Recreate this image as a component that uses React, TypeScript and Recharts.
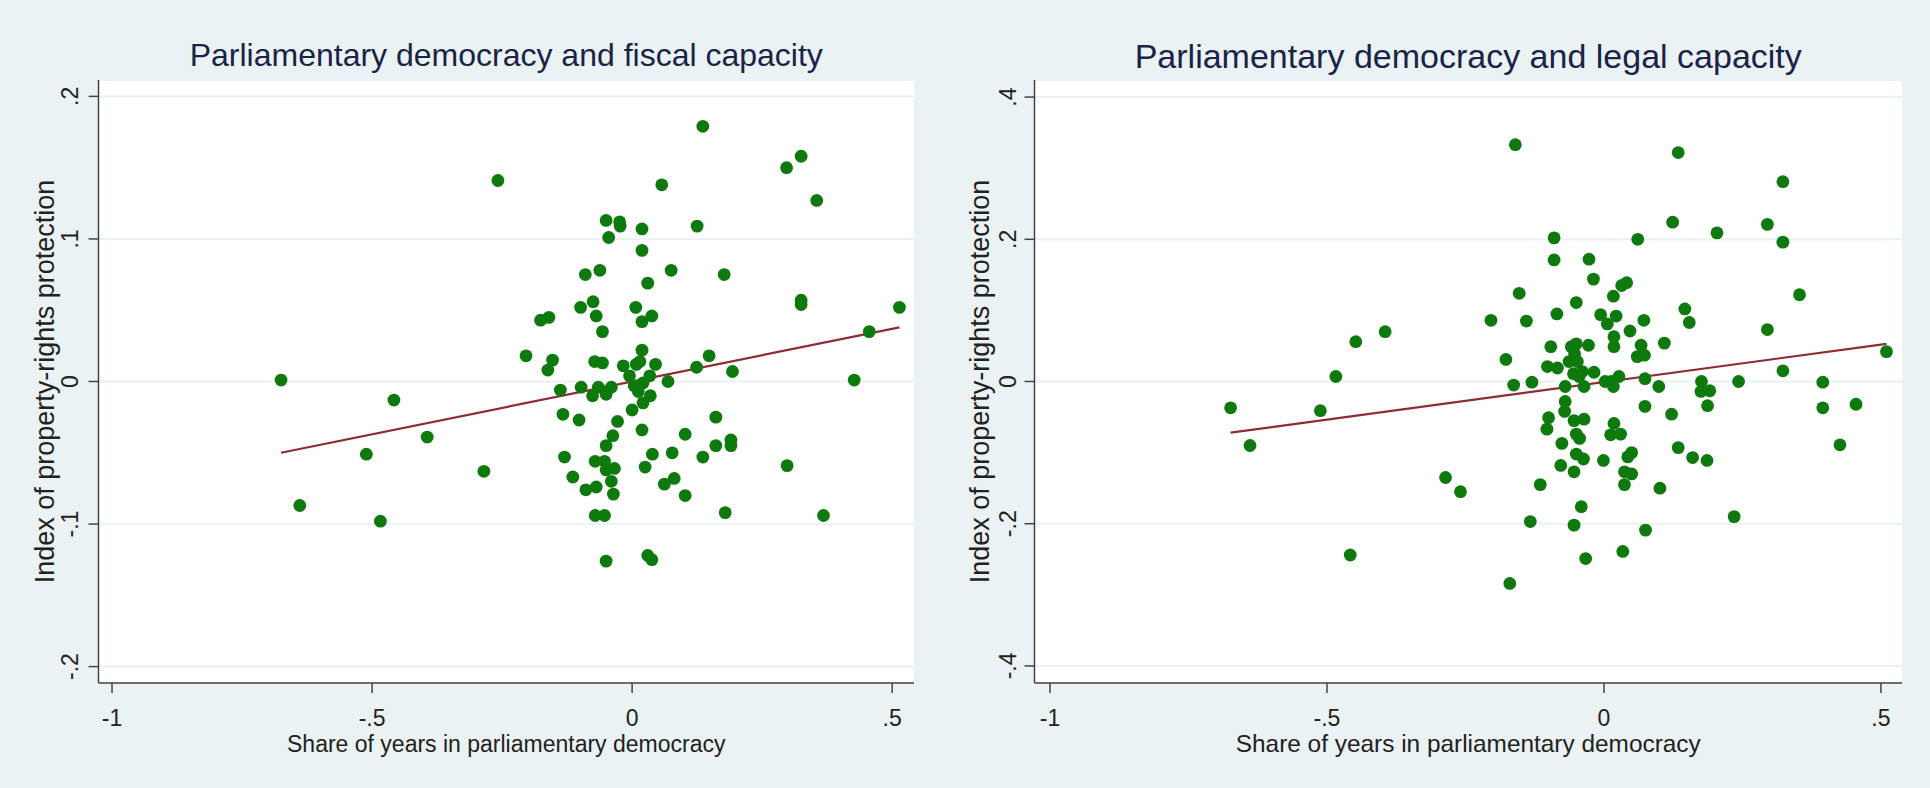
import React from 'react'
import { ScatterChart, Scatter, XAxis, YAxis, CartesianGrid, ReferenceLine } from 'recharts'

// x = share of years in parliamentary democracy, y = index of property-rights protection
const fiscalPoints: [number, number][] = [
  [-0.675, 0.001], [-0.639, -0.087], [-0.458, -0.013], [-0.511, -0.051], [-0.484, -0.098],
  [-0.394, -0.039], [-0.285, -0.063], [-0.258, 0.141], [-0.204, 0.018], [-0.176, 0.043],
  [-0.16, 0.045], [-0.153, 0.015], [-0.162, 0.008], [-0.138, -0.006], [-0.133, -0.023],
  [-0.13, -0.053], [-0.114, -0.067], [-0.102, -0.027], [-0.099, 0.052], [-0.098, -0.004],
  [-0.09, 0.075], [-0.089, -0.076], [-0.075, 0.056], [-0.069, 0.046], [-0.062, 0.078],
  [-0.057, 0.035], [-0.072, 0.014], [-0.057, 0.013], [-0.076, -0.01], [-0.065, -0.004],
  [-0.071, -0.056], [-0.069, -0.074], [-0.071, -0.094], [-0.053, -0.094], [-0.05, 0.113],
  [-0.045, 0.101], [-0.024, 0.112], [-0.023, 0.109], [-0.05, -0.009], [-0.04, -0.004],
  [-0.05, -0.045], [-0.037, -0.038], [-0.028, -0.028], [-0.053, -0.056], [-0.05, -0.062],
  [-0.034, -0.061], [-0.04, -0.07], [-0.036, -0.079], [-0.05, -0.126], [-0.017, 0.011],
  [-0.005, 0.004], [0.004, -0.003], [0.0, -0.02], [0.007, 0.052], [0.019, 0.107],
  [0.019, 0.092], [0.019, 0.042], [0.038, 0.046], [0.03, 0.069], [0.019, 0.022],
  [0.015, 0.014], [0.008, 0.012], [0.021, -0.001], [0.034, 0.004], [0.045, 0.012],
  [0.012, -0.007], [0.021, -0.015], [0.035, -0.01], [0.019, -0.034], [0.025, -0.06],
  [0.039, -0.051], [0.03, -0.122], [0.038, -0.125], [0.057, 0.138], [0.069, 0.0],
  [0.075, 0.078], [0.077, -0.05], [0.062, -0.072], [0.081, -0.068], [0.102, -0.037],
  [0.102, -0.08], [0.125, 0.109], [0.124, 0.01], [0.136, 0.179], [0.136, -0.053],
  [0.148, 0.018], [0.161, -0.025], [0.161, -0.045], [0.177, 0.075], [0.179, -0.092],
  [0.193, 0.007], [0.19, -0.041], [0.19, -0.045], [0.297, 0.15], [0.325, 0.158],
  [0.355, 0.127], [0.325, 0.057], [0.325, 0.054], [0.298, -0.059], [0.368, -0.094],
  [0.427, 0.001], [0.456, 0.035], [0.514, 0.052],
]

const legalPoints: [number, number][] = [
  [-0.674, -0.037], [-0.639, -0.09], [-0.512, -0.041], [-0.484, 0.007], [-0.448, 0.056],
  [-0.395, 0.07], [-0.458, -0.244], [-0.286, -0.135], [-0.259, -0.155], [-0.204, 0.086],
  [-0.177, 0.031], [-0.163, -0.005], [-0.16, 0.333], [-0.153, 0.124], [-0.14, 0.085],
  [-0.13, -0.001], [-0.133, -0.197], [-0.115, -0.145], [-0.17, -0.284], [-0.102, 0.021],
  [-0.096, 0.049], [-0.09, 0.202], [-0.09, 0.171], [-0.085, 0.095], [-0.084, 0.019],
  [-0.1, -0.051], [-0.103, -0.067], [-0.076, -0.087], [-0.078, -0.118], [-0.07, -0.007],
  [-0.07, -0.028], [-0.071, -0.042], [-0.063, 0.028], [-0.059, 0.049], [-0.05, 0.053],
  [-0.053, 0.039], [-0.048, 0.028], [-0.055, 0.011], [-0.045, 0.007], [-0.039, 0.014],
  [-0.05, 0.111], [-0.054, -0.055], [-0.05, -0.074], [-0.044, -0.08], [-0.054, -0.127],
  [-0.05, -0.102], [-0.037, -0.109], [-0.036, -0.053], [-0.036, -0.007], [-0.041, -0.176],
  [-0.054, -0.202], [-0.033, -0.249], [-0.028, 0.051], [-0.027, 0.172], [-0.019, 0.144],
  [-0.018, 0.013], [-0.006, 0.094], [0.006, 0.081], [-0.001, -0.111], [0.002, 0.0],
  [0.013, 0.0], [0.017, 0.12], [0.022, 0.092], [0.018, 0.063], [0.018, 0.049],
  [0.017, -0.007], [0.027, 0.007], [0.018, -0.059], [0.012, -0.075], [0.03, -0.074],
  [0.032, 0.135], [0.041, 0.139], [0.047, 0.071], [0.037, -0.127], [0.037, -0.145],
  [0.043, -0.106], [0.05, -0.1], [0.05, -0.13], [0.034, -0.239], [0.061, 0.2],
  [0.067, 0.051], [0.06, 0.035], [0.073, 0.037], [0.072, 0.086], [0.074, 0.004],
  [0.074, -0.035], [0.075, -0.209], [0.099, -0.007], [0.109, 0.054], [0.101, -0.15],
  [0.122, -0.046], [0.124, 0.224], [0.134, 0.322], [0.134, -0.093], [0.146, 0.102],
  [0.154, 0.083], [0.16, -0.107], [0.176, 0.0], [0.175, -0.014], [0.191, -0.013],
  [0.187, -0.034], [0.186, -0.111], [0.204, 0.209], [0.235, -0.19], [0.243, 0.0],
  [0.295, 0.221], [0.295, 0.073], [0.323, 0.281], [0.323, 0.196], [0.323, 0.015],
  [0.353, 0.122], [0.395, -0.001], [0.395, -0.037], [0.426, -0.089], [0.455, -0.032],
  [0.51, 0.042],
]

// fitted line endpoints
const fiscalFit: [number, number][] = [[-0.675, -0.05], [0.514, 0.038]]
const legalFit: [number, number][] = [[-0.674, -0.072], [0.51, 0.053]]

const xTicks = [-1, -0.5, 0, 0.5]
const fiscalYTicks = [-0.2, -0.1, 0, 0.1, 0.2]
const legalYTicks = [-0.4, -0.2, 0, 0.2, 0.4]

const BG = '#eaf2f3'
const GREEN = '#0e7a0e'
const FONT = '"Liberation Sans", Arial, Helvetica, sans-serif'

// stata-style labels: .5, -.5, 0, -1
const fmt = (v: number) => (v === 0 ? '0' : String(v).replace(/^(-?)0\./, '$1.'))

const dot = (props: any) => <circle cx={props.cx} cy={props.cy} r={6.4} fill={GREEN} />

type PanelProps = {
  left: number
  title: string
  points: [number, number][]
  fit: [number, number][]
  yTicks: number[]
  xDomain: [number, number]
  yDomain: [number, number]
  axisW: number
  rightM: number
  titleSize: number
  labelSize: number
  yLabelX: number
  yTickOff: number
}

function Panel(p: PanelProps) {
  const data = p.points.map(([x, y]) => ({ x, y }))
  const plotW = 965 - p.axisW - p.rightM
  const center = p.axisW + plotW / 2

  const YTick = (t: any) => {
    const cx = t.x - p.yTickOff
    return (
      <text x={cx} y={t.y} transform={`rotate(-90 ${cx} ${t.y})`} textAnchor="middle"
        dominantBaseline="central" fontSize={23} fill="#222" fontFamily={FONT}>
        {fmt(t.payload.value)}
      </text>
    )
  }
  const XTick = (t: any) => (
    <text x={t.x} y={t.y + 33} textAnchor="middle" fontSize={23} fill="#222" fontFamily={FONT}>
      {fmt(t.payload.value)}
    </text>
  )

  return (
    <div style={{ position: 'absolute', left: p.left, top: 0, width: 965, height: 788 }}>
      <div style={{
        position: 'absolute', left: center - 450, width: 900, top: 39, textAlign: 'center',
        fontFamily: FONT, fontSize: p.titleSize, lineHeight: `${p.titleSize}px`, color: '#1a2448',
      }}>
        {p.title}
      </div>
      <ScatterChart width={965} height={788} margin={{ top: 80, right: p.rightM, bottom: 0, left: 0 }}>
        <CartesianGrid vertical={false} stroke={BG} strokeWidth={2} fill="#ffffff" />
        <XAxis type="number" dataKey="x" domain={p.xDomain} ticks={xTicks} interval={0}
          allowDataOverflow height={105} tickSize={10} tickMargin={0}
          axisLine={{ stroke: '#444', strokeWidth: 1.5 }} tickLine={{ stroke: '#444', strokeWidth: 1.5 }}
          tick={XTick}
          label={{
            value: 'Share of years in parliamentary democracy',
            content: (l: any) => (
              <text x={l.viewBox.x + l.viewBox.width / 2} y={752} textAnchor="middle"
                fontSize={p.labelSize} fill="#222" fontFamily={FONT}>
                Share of years in parliamentary democracy
              </text>
            ),
          }}
        />
        <YAxis type="number" dataKey="y" domain={p.yDomain} ticks={p.yTicks} interval={0}
          allowDataOverflow width={p.axisW} tickSize={10} tickMargin={0}
          axisLine={{ stroke: '#444', strokeWidth: 1.5 }} tickLine={{ stroke: '#444', strokeWidth: 1.5 }}
          tick={YTick}
          label={{
            value: 'Index of property-rights protection',
            content: () => (
              <text x={p.yLabelX} y={381.5} transform={`rotate(-90 ${p.yLabelX} 381.5)`}
                textAnchor="middle" dominantBaseline="central" fontSize={27} fill="#222" fontFamily={FONT}>
                Index of property-rights protection
              </text>
            ),
          }}
        />
        <Scatter data={data} fill={GREEN} shape={dot} isAnimationActive={false} />
        <ReferenceLine
          segment={p.fit.map(([x, y]) => ({ x, y }))}
          stroke="#8e2b35" strokeWidth={2.2}
        />
      </ScatterChart>
    </div>
  )
}

export default function App() {
  return (
    <div style={{ position: 'relative', width: 1930, height: 788, background: BG, overflow: 'hidden' }}>
      <style>{'body{margin:0}'}</style>
      <Panel left={0} title="Parliamentary democracy and fiscal capacity" points={fiscalPoints}
        fit={fiscalFit} yTicks={fiscalYTicks} xDomain={[-1.026, 0.542]} yDomain={[-0.2115, 0.2115]}
        axisW={98.5} rightM={51} titleSize={32} labelSize={23} yLabelX={45} yTickOff={18.5} />
      <Panel left={965} title="Parliamentary democracy and legal capacity" points={legalPoints}
        fit={legalFit} yTicks={legalYTicks} xDomain={[-1.028, 0.538]} yDomain={[-0.424, 0.424]}
        axisW={69.5} rightM={28} titleSize={34} labelSize={24.4} yLabelX={15} yTickOff={16.5} />
    </div>
  )
}
